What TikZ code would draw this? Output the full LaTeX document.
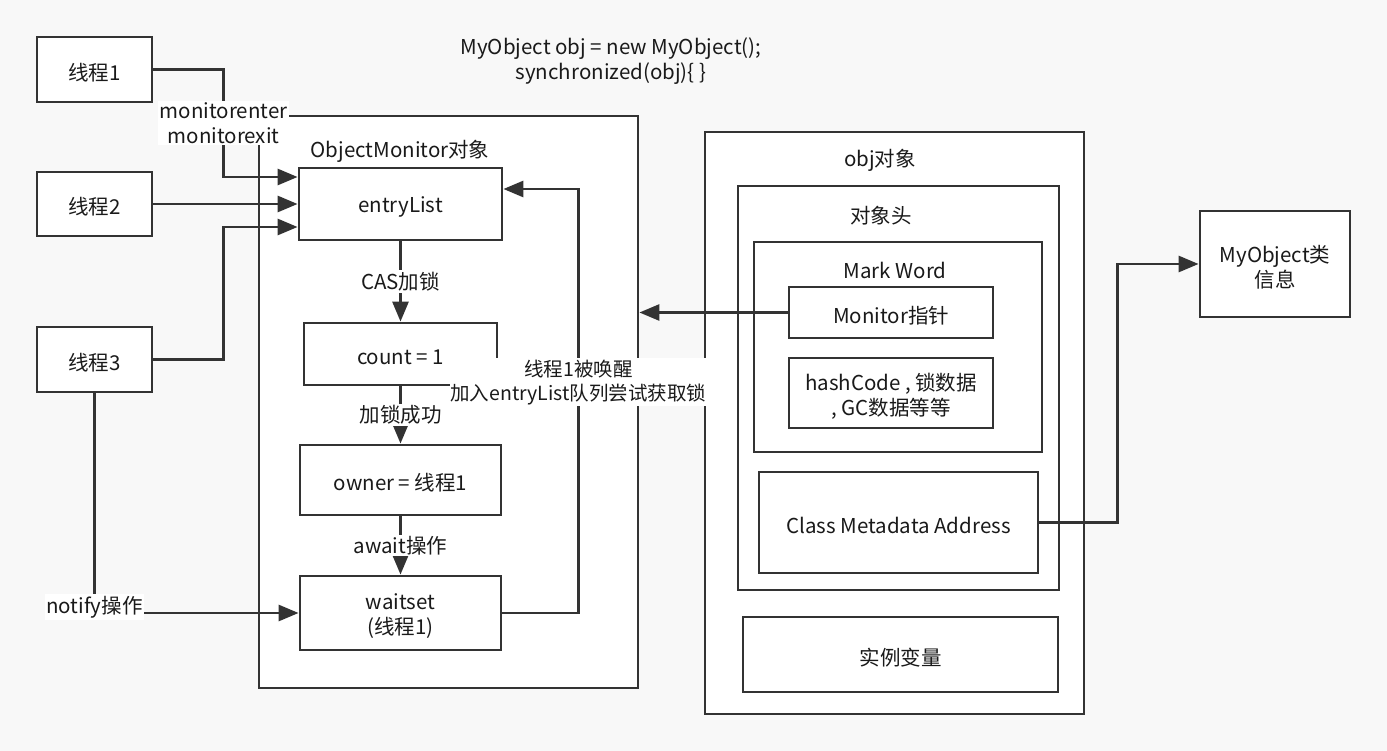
\documentclass[tikz,border=0pt]{standalone}
\usepackage{fontspec}
\setmainfont{Noto Sans CJK SC}
\usetikzlibrary{arrows.meta,calc}
\definecolor{bg}{RGB}{248,248,248}
\definecolor{lc}{RGB}{51,51,51}
\definecolor{tc}{RGB}{26,26,26}
\begin{document}
\begin{tikzpicture}[x=1pt,y=-1pt,
  every node/.style={font=\fontsize{20.5}{25}\selectfont, text=tc},
  box/.style={draw=lc, line width=2.8pt, fill=white, inner sep=0pt, align=center},
  tl/.style={inner sep=0pt, align=center, yshift=-3pt},
  ttl/.style={inner sep=0pt, align=center},
  lbl/.style={fill=white, inner sep=1.5pt, align=center},
  arr/.style={draw=lc, line width=2.8pt, -{Triangle[length=20pt,width=16pt]}}]
\fill[bg] (0,0) rectangle (1387,751);
\useasboundingbox (0,0) rectangle (1387,751);

\node[ttl] (code) at (611,61) {MyObject obj = new MyObject();\\synchronized(obj)\{ \}};

% threads
\node[box, minimum width=115pt, minimum height=65pt, label={[tl]center:线程1}] (t1) at (94.5,69.5) {};
\node[box, minimum width=115pt, minimum height=64pt, label={[tl]center:线程2}] (t2) at (94.5,204) {};
\node[box, minimum width=115pt, minimum height=65pt, label={[tl]center:线程3}] (t3) at (94.5,359.5) {};

% ObjectMonitor
\node[box, minimum width=379pt, minimum height=572pt] (om) at (448.5,402) {};
\node[ttl] (omt) at (400,151) {ObjectMonitor对象};
\node[box, minimum width=203pt, minimum height=72pt, label={[tl]center:entryList}] (el) at (400.5,204) {};
\node[box, minimum width=193pt, minimum height=62pt, label={[tl]center:count = 1}] (cnt) at (400.5,354) {};
\node[box, minimum width=201pt, minimum height=70pt, label={[tl]center:owner = 线程1}] (own) at (400.5,480) {};
\node[box, minimum width=201pt, minimum height=74pt, label={[tl]center:{waitset\\(线程1)}}] (ws) at (400.5,613) {};

% obj
\node[box, minimum width=379pt, minimum height=582pt] (obj) at (894.5,423) {};
\node[ttl] (objt) at (880,160) {obj对象};
\node[box, minimum width=321pt, minimum height=404pt] (hdr) at (898.5,388) {};
\node[ttl] (hdrt) at (881,216) {对象头};
\node[box, minimum width=288pt, minimum height=210pt] (mw) at (898,347) {};
\node[ttl] (mwt) at (895,270) {Mark Word};
\node[box, minimum width=204pt, minimum height=51pt, label={[tl]center:Monitor指针}] (mp) at (891,312.5) {};
\node[box, minimum width=204pt, minimum height=70pt, label={[tl]center:{hashCode , 锁数据\\, GC数据等等}}] (hc) at (891,393) {};
\node[box, minimum width=279pt, minimum height=101pt, label={[tl]center:Class Metadata Address}] (cma) at (898.5,522.5) {};
\node[box, minimum width=315pt, minimum height=75pt, label={[tl]center:实例变量}] (iv) at (900.5,654.5) {};
\node[box, minimum width=150pt, minimum height=106pt, label={[tl]center:{MyObject类\\信息}}] (cls) at (1275,264) {};

% connectors
\draw[arr] (t2.east) -- (el.west);
\draw[arr] (t3.east) -| ($(el.west)+(-74,23)$) -- ($(el.west)+(0,23)$);
\draw[arr] (t1.east) -| node[lbl, pos=0.75] {monitorenter\\monitorexit} ($(el.west)+(-74,-27)$) -- ($(el.west)+(0,-27)$);
\draw[arr] (el.south) -- node[lbl] {CAS加锁} (cnt.north);
\draw[arr] (cnt.south) -- node[lbl] {加锁成功} (own.north);
\draw[arr] (own.south) -- node[lbl] {await操作} (ws.north);
\draw[arr] (t3.south) |- node[lbl, pos=0.5, yshift=6pt] {notify操作} (ws.west);
\draw[arr] (mp.west) -- (mp.west -| om.east);
\draw[arr] (cma.east) -| ($(cls.west)+(-81,0)$) -- (cls.west);
\draw[arr] (ws.east) -| node[lbl, pos=0.772, inner xsep=0pt, font=\fontsize{19.5}{24}\selectfont] {线程1被唤醒\\加入entryList队列尝试获取锁} ($(el.east)+(75,-15)$) -- ($(el.east)+(0,-15)$);
\end{tikzpicture}
\end{document}
